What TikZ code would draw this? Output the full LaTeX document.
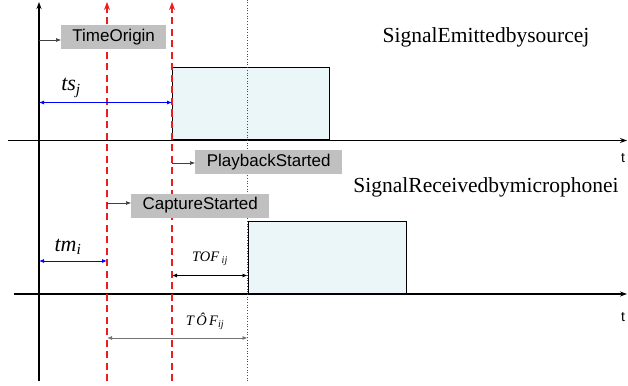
\documentclass[tikz,border=0pt]{standalone}
\usepackage{fontspec}
\setmainfont{Liberation Serif}
\setsansfont{Liberation Sans}
\usepackage{tikz}
\usetikzlibrary{positioning, arrows.meta, calc}
\definecolor{markred}{RGB}{238,28,28}
\definecolor{tagfill}{RGB}{192,192,192}
\definecolor{pulsefill}{RGB}{234,246,247}

\begin{document}
\begin{tikzpicture}[
    x = 1pt, y = -1pt,
    every node/.style = {inner sep=0pt},
    axis/.style = {line width=1.2pt, -{Stealth[length=7pt, width=5pt]}},
    startline/.style = {markred, line width=1.8pt, dash pattern=on 7pt off 4.5pt, -{Stealth[length=8pt, width=6pt]}},
    rxline/.style = {black!70, line width=0.7pt, dotted},
    pulse/.style = {draw, line width=1.3pt, fill=pulsefill, minimum height=72pt, anchor=south west},
    tag/.style = {fill=tagfill, minimum height=24pt, anchor=west, font=\sffamily\fontsize{17}{17}\selectfont},
    ptr/.style = {black!75, line width=0.6pt, -{Latex[length=5pt, width=4pt]}},
    span/.style = {line width=0.8pt, {Latex[length=5pt, width=4pt]}-{Latex[length=5pt, width=4pt]}},
    title/.style = {font=\fontsize{21.5}{22}\selectfont},
    tick/.style = {font=\sffamily\fontsize{14}{14}\selectfont},
    big/.style = {font=\itshape\fontsize{22}{22}\selectfont},
    small/.style = {font=\itshape\fontsize{14.5}{15}\selectfont}
]
\useasboundingbox (0,0) rectangle (628,385);

% pulses
\node[pulse, minimum width=157pt] (emit) at (172,140.5) {};
\node[pulse, minimum width=158pt] (recv) at (247.5,294) {};

% axes
\coordinate (o0) at (39,381);
\coordinate (o1) at (39,2);
\coordinate (e0) at (8,140.5);
\coordinate (e1) at (627,140.5);
\coordinate (r0) at (14,294);
\coordinate (r1) at (627,294);
\draw[axis] (o0) -- (o1);
\draw[axis] (e0) -- (e1);
\draw[axis] (r0) -- (r1);

% start instants
\coordinate (cap0) at (107,381);
\coordinate (cap1) at (107,2);
\coordinate (play0) at (172,381);
\coordinate (play1) at (172,2);
\coordinate (rx0) at (247.5,381);
\coordinate (rx1) at (247.5,0);
\draw[startline] (cap0) -- (cap1);
\draw[startline] (play0) -- (play1);
\draw[rxline] (rx0) -- (rx1);

% labels
\node[title] (emtxt) at (486,37) {SignalEmittedbysourcej};
\node[title] (rxtxt) at (486,187) {SignalReceivedbymicrophonei};
\node[tick] (t1) at (623,158) {t};
\node[tick] (t2) at (623,317) {t};

\node[tag, minimum width=105pt] (origin) at (61,37) {TimeOrigin};
\node[tag, minimum width=147pt] (play) at (195,162) {PlaybackStarted};
\node[tag, minimum width=138pt] (capture) at (131,205.5) {CaptureStarted};

\coordinate (a1) at (39,40);
\coordinate (a2) at (172,163);
\coordinate (a3) at (107,203);
\draw[ptr] (a1) -- (a1 -| origin.west);
\draw[ptr] (a2) -- (a2 -| play.west);
\draw[ptr] (a3) -- (a3 -| capture.west);

% durations
\coordinate (ts0) at (39,102.5);
\coordinate (ts1) at (172,102.5);
\coordinate (tm0) at (39,261);
\coordinate (tm1) at (107,261);
\coordinate (tof0) at (172,275.5);
\coordinate (tof1) at (247.5,275.5);
\coordinate (est0) at (107,338);
\coordinate (est1) at (247.5,338);
\draw[span, blue] (ts0) -- (ts1);
\draw[span, blue] (tm0) -- (tm1);
\draw[span] (tof0) -- (tof1);
\draw[span, black!55] (est0) -- (est1);

\node[big] (tslbl) at (71,88) {ts\textsubscript{j}};
\node[big] (tmlbl) at (68,247) {tm\textsubscript{i}};
\node[small] (toflbl) at (210,259) {TOF\,\textsubscript{ij}};
\node[small] (estlbl) at (205,321) {T\,Ô\,F\textsubscript{ij}};

\end{tikzpicture}
\end{document}
